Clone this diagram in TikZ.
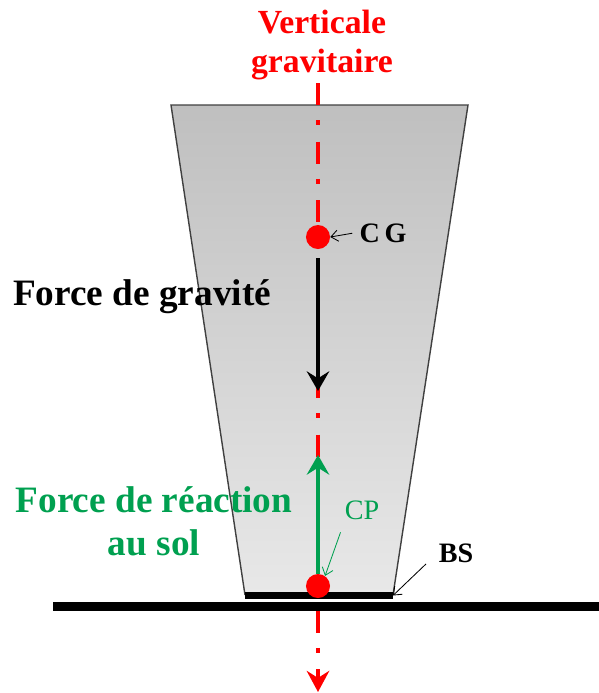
\documentclass[tikz,border=0pt]{standalone}
\usepackage{fontspec}
\setmainfont{Liberation Serif}
\usetikzlibrary{positioning,arrows.meta}
\definecolor{vertred}{RGB}{255,0,0}
\definecolor{forcegreen}{RGB}{0,160,80}

\begin{document}
\begin{tikzpicture}[
    x=0.025cm, y=-0.025cm,
    bigtext/.style={font=\fontsize{24}{28}\selectfont\bfseries, align=center, inner sep=0pt},
    forcetext/.style={font=\fontsize{26.5}{30.5}\selectfont\bfseries, align=center, inner sep=0pt},
    smalltext/.style={font=\fontsize{20}{24}\selectfont, inner sep=0pt},
    dot/.style={circle, fill=vertred, minimum size=0.6cm, inner sep=0pt},
    force/.style={line width=2.8pt, -{Stealth[length=14pt, width=16pt, inset=5pt]}},
    pointer/.style={line width=0.6pt, shorten <=1pt, -{Straight Barb[length=5pt, width=8pt]}},
    vertical/.style={vertred, line width=2.8pt, dash pattern=on 0.55cm off 0.38cm on 0.125cm off 0.41cm, -{Stealth[length=15pt, width=16pt, inset=5pt]}}
]
\useasboundingbox (0,0) rectangle (599,693);

% Body
\shade[top color=gray!50, bottom color=gray!18] (171,105) -- (468,105) -- (393,595) -- (245,595) -- cycle;
\draw[line width=1pt, black!75] (245,595) -- (171,105) -- (468,105) -- (393,595);

% Gravity vertical
\coordinate (vtop) at (318,83);
\coordinate (vbot) at (318,692);
\draw[vertical] (vtop) -- (vbot);

% Support base and ground
\coordinate (bsleft) at (245,595.5);
\coordinate (bsright) at (393,595.5);
\draw[line width=0.175cm] (bsleft) -- (bsright);
\draw[line width=0.225cm] (53,606.5) -- (599,606.5);

% Points
\node[dot] (cg) at (318,237) {};
\node[dot] (cp) at (318,586) {};

% Labels
\node[bigtext, text=vertred] (vlabel) at (322,45) {Verticale\\gravitaire};
\node[forcetext] (gravlab) at (142,297) {Force de gravité};
\node[forcetext, text=forcegreen] (reaclab) at (154,521) {Force de réaction\\au sol};
\node[smalltext, font=\fontsize{20}{24}\selectfont\bfseries] (cglab) at (383,233) {C\,G};
\node[smalltext, text=forcegreen] (cplab) at (362,510) {CP};
\node[smalltext, font=\fontsize{20}{24}\selectfont\bfseries] (bslab) at (456,553) {BS};

% Forces
\coordinate (gstart) at (318,258);
\coordinate (gtip) at (318,391);
\coordinate (rtip) at (318,455);
\draw[force] (gstart) -- (gtip);
\draw[force, forcegreen] (cp.north) -- (rtip);

% Pointers
\coordinate (cptail) at (341,531);
\coordinate (bstail) at (427,563);
\draw[pointer] ([xshift=-4pt]cglab.west) -- (cg.east);
\draw[pointer, forcegreen] (cptail) -- (cp.55);
\draw[pointer] (bstail) -- (bsright);
\end{tikzpicture}
\end{document}
